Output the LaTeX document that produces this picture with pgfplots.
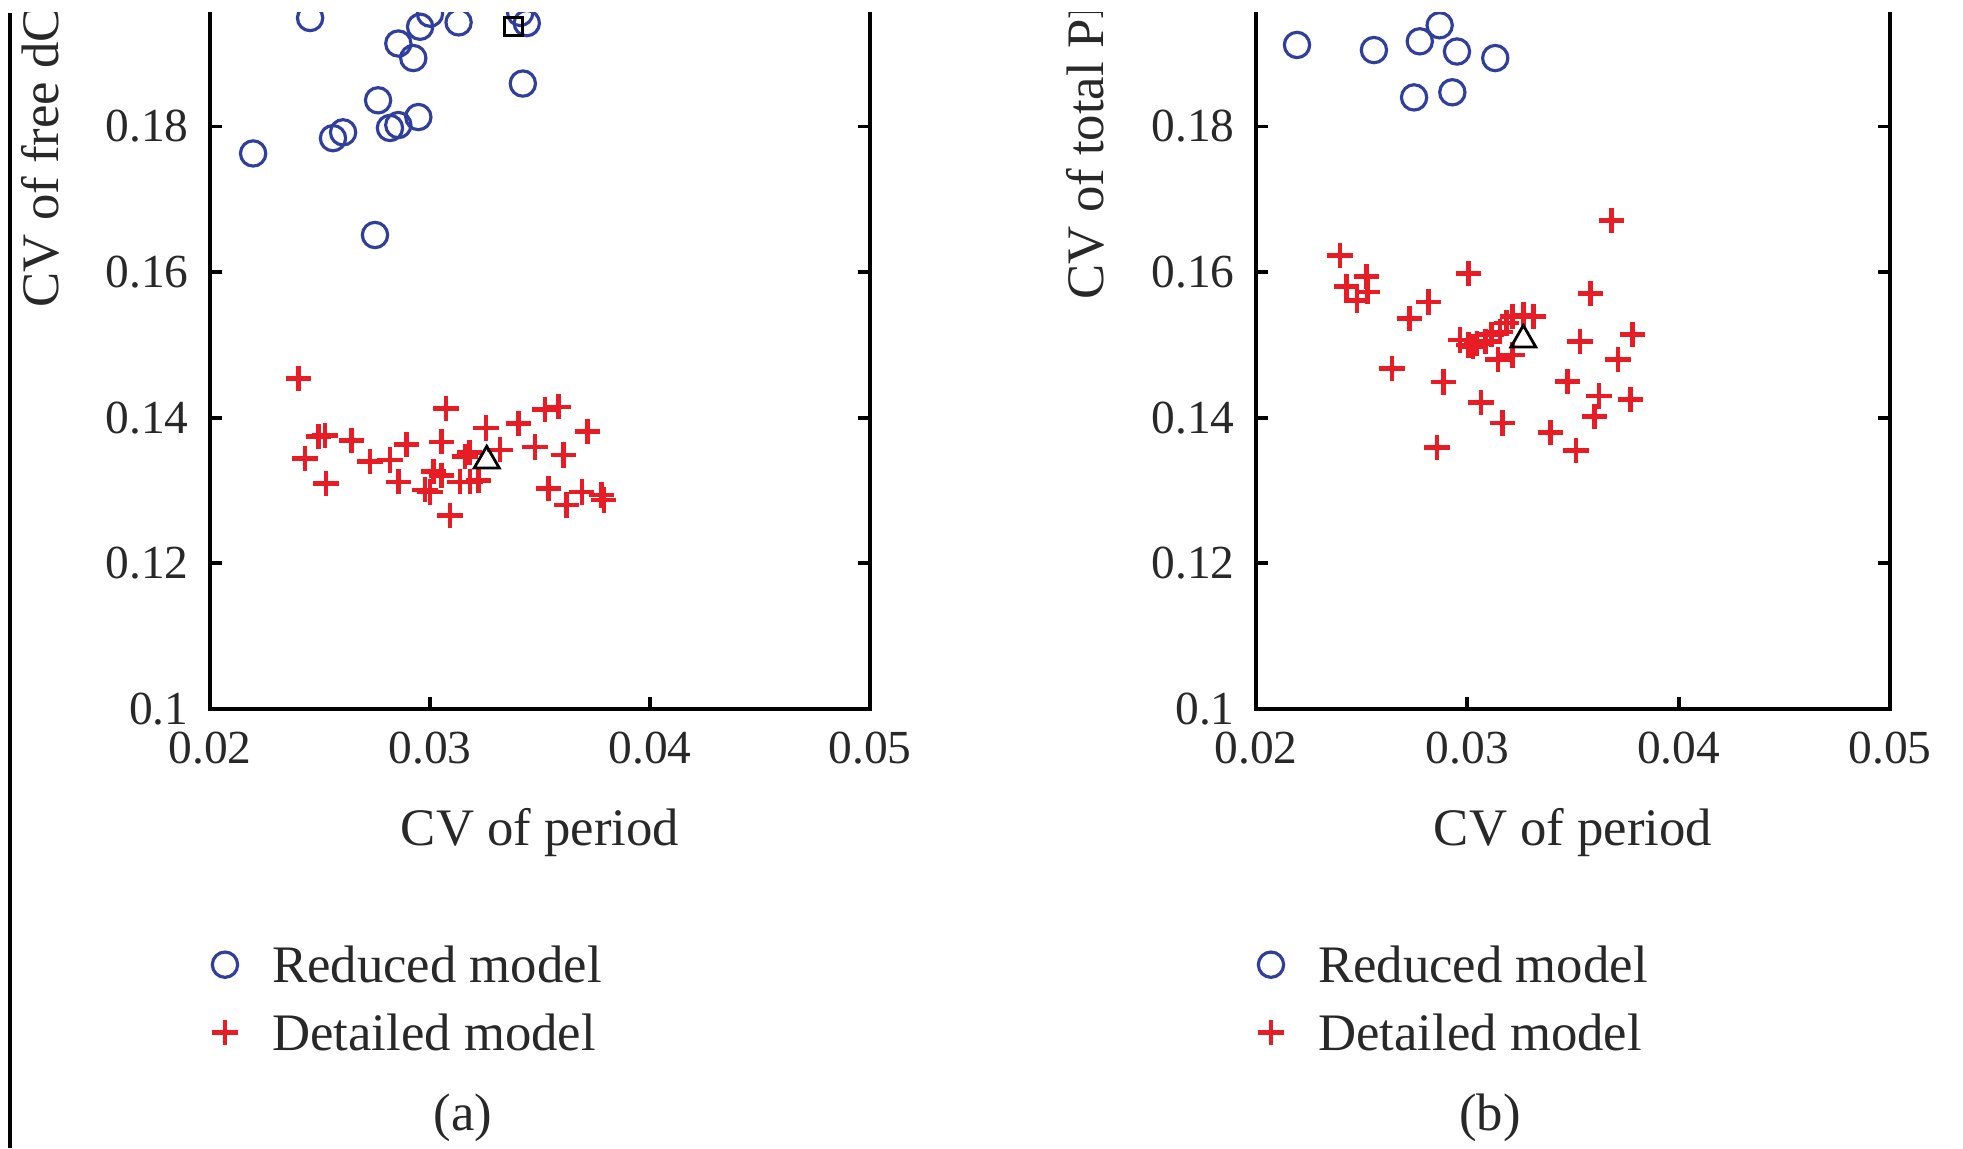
\documentclass[border=0pt]{standalone}
\usepackage{fontspec}
\setmainfont{Liberation Serif}
\usepackage{pgfplots}
\pgfplotsset{compat=1.18}

\definecolor{redmod}{RGB}{232,28,36}
\definecolor{bluemod}{RGB}{48,62,156}
\definecolor{txt}{RGB}{40,40,40}

\pgfplotsset{
  cvpanel/.style={
    scale only axis, anchor=south west,
    height=7.012cm,
    xmin=0.02, xmax=0.05, ymin=0.1, ymax=0.1963,
    xtick={0.02,0.03,0.04,0.05},
    ytick={0.1,0.12,0.14,0.16,0.18},
    scaled ticks=false,
    /pgf/number format/.cd, fixed, precision=2, assume math mode=true, /pgfplots/.cd,
    xtick pos=left, ytick pos=both,
    tick align=inside,
    major tick length=0.12cm,
    axis line style={line width=1.1pt},
    tick style={line width=1.1pt, black},
    tick label style={font=\fontsize{13.5}{16}\selectfont, text=txt},
    yticklabel style={xshift=-0.09cm},
    xticklabel style={yshift=-0.11cm},
    label style={font=\fontsize{15}{18}\selectfont, text=txt},
    xlabel={CV of period},
    xlabel style={at={(axis description cs:0.5,0)}, anchor=center, yshift=-1.24cm},
    ylabel style={inner sep=0pt, anchor=west},
    legend cell align=left,
    legend style={at={(axis description cs:0,0)}, anchor=north west,
      xshift=-0.03cm, yshift=-2.374cm,
      draw=none, fill=none, inner sep=0pt,
      font=\fontsize{15}{18}\selectfont, text=txt,
      row sep=9.3pt,
      nodes={inner sep=0pt, text height=10pt, text depth=0pt},
      /tikz/every odd column/.append style={column sep=0.30cm}},
    legend image code/.code={\path (-0.15cm,0cm) (0.15cm,0cm);
      \draw[##1] plot coordinates {(0cm,0cm)};},
  },
  reduced/.style={only marks, mark=o, mark size=3.6pt, bluemod, line width=0.9pt},
  detailed/.style={only marks, mark=+, mark size=3.6pt, redmod, line width=1.3pt},
}

\begin{document}
\begin{tikzpicture}
\useasboundingbox (0,0) rectangle (19.63,11.48);
\begin{scope}
\clip (0,0) rectangle (19.63,11.35);
\draw[line width=1.2pt] (0.10,0) -- (0.10,11.35);

% (a)
\begin{axis}[cvpanel, at={(2.10cm,4.39cm)}, width=6.60cm,
  ylabel={CV of free dClk},
  ylabel style={at={(axis description cs:-0.2576,0.5719)}}]
\addplot[reduced] coordinates {
(0.02455,0.1949) (0.02196,0.1763) (0.02559,0.1784) (0.02605,0.1792)
(0.02764,0.1836) (0.02750,0.1651) (0.02818,0.1798) (0.02856,0.1802)
(0.02947,0.1813) (0.02856,0.1914) (0.02924,0.1894) (0.02955,0.1937)
(0.03000,0.1955) (0.03130,0.1943) (0.03440,0.1942) (0.03410,0.1956)
(0.03422,0.1859)};
\addplot[detailed] coordinates {
(0.02401,0.1454) (0.02492,0.1374) (0.02523,0.1376) (0.02432,0.1344)
(0.02644,0.1369) (0.02527,0.1310) (0.02727,0.1340) (0.02818,0.1342)
(0.02894,0.1363) (0.02856,0.1312) (0.03073,0.1413) (0.03053,0.1367)
(0.03015,0.1326) (0.03053,0.1321) (0.02977,0.1301) (0.03000,0.1298)
(0.03091,0.1266) (0.03159,0.1347) (0.03180,0.1352) (0.03136,0.1312)
(0.03182,0.1312) (0.03220,0.1314) (0.03255,0.1386) (0.03318,0.1356)
(0.03401,0.1392) (0.03523,0.1411) (0.03583,0.1415) (0.03477,0.1360)
(0.03606,0.1349) (0.03715,0.1381) (0.03538,0.1303) (0.03621,0.1280)
(0.03690,0.1298) (0.03780,0.1294) (0.03790,0.1287)};
\addplot[forget plot, only marks, mark=triangle, mark size=4.1pt, black, line width=0.8pt]
  coordinates {(0.03258,0.1341)};
\addplot[forget plot, only marks, mark=square, mark size=2.6pt, black, line width=0.8pt]
  coordinates {(0.03380,0.1937)};
\legend{Reduced model, Detailed model}
\end{axis}

% (b)
\begin{axis}[cvpanel, at={(12.56cm,4.39cm)}, width=6.34cm,
  ylabel={CV of total PER},
  ylabel style={at={(axis description cs:-0.2697,0.5833)}}]
\addplot[reduced] coordinates {
(0.02194,0.1912) (0.02558,0.1905) (0.02775,0.1917) (0.02869,0.1939)
(0.02951,0.1903) (0.03132,0.1894) (0.02748,0.1840) (0.02929,0.1847)};
\addplot[detailed] coordinates {
(0.02398,0.1623) (0.02428,0.1580) (0.02524,0.1594) (0.02478,0.1561)
(0.02528,0.1573) (0.02817,0.1559) (0.02727,0.1536) (0.03006,0.1598)
(0.02643,0.1468) (0.02886,0.1449) (0.02856,0.1359) (0.03065,0.1421)
(0.03165,0.1393) (0.02966,0.1507) (0.03006,0.1500) (0.03046,0.1502)
(0.03085,0.1505) (0.03115,0.1514) (0.03155,0.1518) (0.03185,0.1530)
(0.03215,0.1539) (0.03265,0.1541) (0.03314,0.1539) (0.03145,0.1480)
(0.03215,0.1486) (0.03026,0.1498) (0.03583,0.1571) (0.03533,0.1505)
(0.03782,0.1514) (0.03713,0.1480) (0.03474,0.1450) (0.03623,0.1430)
(0.03772,0.1425) (0.03603,0.1402) (0.03394,0.1380) (0.03514,0.1355)
(0.03683,0.1671)};
\addplot[forget plot, only marks, mark=triangle, mark size=4.1pt, black, line width=0.8pt]
  coordinates {(0.03265,0.1507)};
\legend{Reduced model, Detailed model}
\end{axis}

\node[font=\fontsize{15}{18}\selectfont, text=txt] at (4.63,0.30) {(a)};
\node[font=\fontsize{15}{18}\selectfont, text=txt] at (14.90,0.30) {(b)};
\end{scope}
\end{tikzpicture}
\end{document}
